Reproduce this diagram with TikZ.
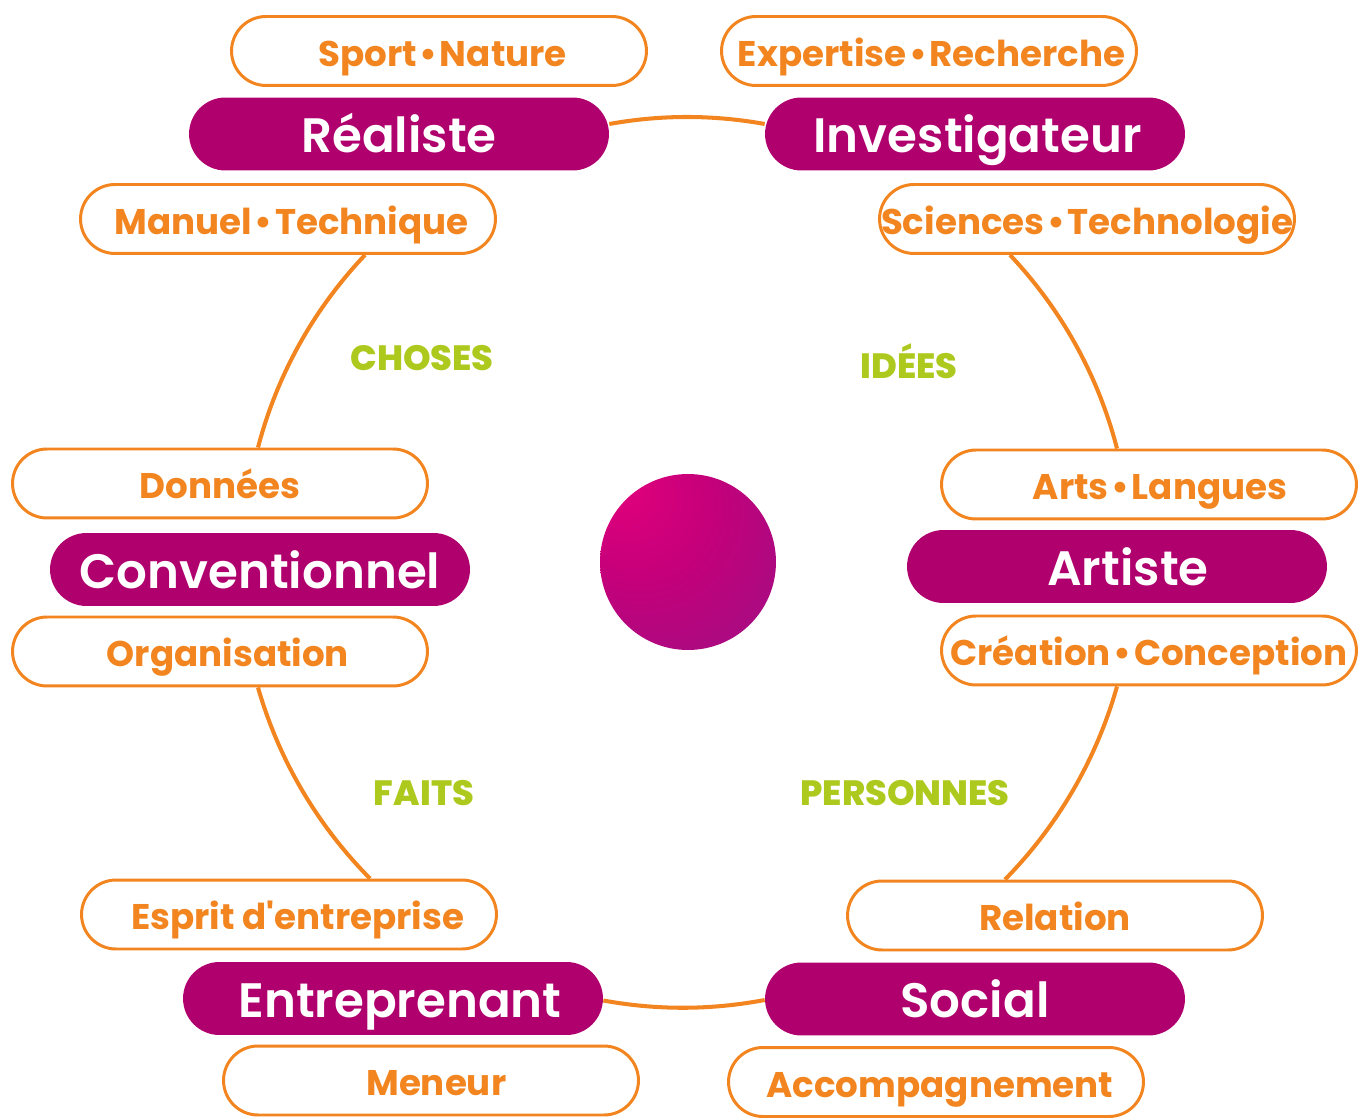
\documentclass[tikz,border=0pt]{standalone}
\usepackage{fontspec}
\setmainfont{Poppins}
\newfontfamily\psemi{Poppins SemiBold}
\newfontfamily\pbold{Poppins Bold}
\newfontfamily\pxbold{Poppins ExtraBold}
\usetikzlibrary{calc,backgrounds}
\definecolor{orng}{RGB}{242,133,31}
\definecolor{mag}{RGB}{176,0,110}
\definecolor{grn}{RGB}{174,201,30}
\definecolor{ballA}{RGB}{226,0,124}
\definecolor{ballB}{RGB}{196,0,122}
\definecolor{ballC}{RGB}{148,20,136}
\pgfdeclareradialshading{ballsh}{\pgfpoint{-20bp}{22bp}}{color(0bp)=(ballA); color(22bp)=(ballB); color(58bp)=(ballC); color(85bp)=(ballC)}
\newcommand{\dotsep}{\kern1.5pt•\kern1.5pt}
\newcommand{\tsh}[1]{\hspace*{#1}}
\tikzset{
  pillo/.style={draw=orng, line width=1.7pt, fill=white, rounded corners=0.69cm,
    minimum width=8.3cm, minimum height=1.38cm, inner sep=0pt, text=orng,
    text height=17.4pt, text depth=0pt, font=\pbold\fontsize{20.3}{20.3}\selectfont},
  pillf/.style={fill=mag, rounded corners=0.73cm,
    minimum width=8.4cm, minimum height=1.46cm, inner sep=0pt, text=white,
    text height=21.4pt, text depth=0pt, font=\psemi\fontsize{27.5}{27.5}\selectfont},
  arcline/.style={draw=orng, line width=2.3pt},
  lbl/.style={text=grn, inner sep=0pt, font=\pxbold\fontsize{20}{20}\selectfont},
}
\begin{document}
\begin{tikzpicture}[x=0.02cm,y=0.02cm]
\useasboundingbox (0,0) rectangle (1370,1117);
% top-left
\node[pillo] (sport) at (439,1066) {\tsh{4pt}Sport\dotsep Nature};
\node[pillf] (real) at (399,983) {Réaliste};
\node[pillo] (manuel) at (288,898) {\tsh{4pt}Manuel\dotsep Technique};
% top-right
\node[pillo] (expert) at (929,1066) {\tsh{3pt}Expertise\dotsep Recherche};
\node[pillf] (invest) at (975,983) {\tsh{3pt}Investigateur};
\node[pillo] (sci) at (1087,898) {Sciences\dotsep Technologie};
% right
\node[pillo] (arts) at (1149,632.5) {\tsh{12.5pt}Arts\dotsep Langues};
\node[pillf] (artiste) at (1117,550.5) {\tsh{12.5pt}Artiste};
\node[pillo] (creation) at (1149,466.5) {Création\dotsep Conception};
% left
\node[pillo] (donnees) at (220,633.5) {Données};
\node[pillf] (conv) at (260,547.5) {Conventionnel};
\node[pillo] (org) at (220,465.5) {\tsh{9pt}Organisation};
% bottom-left
\node[pillo] (esprit) at (289,202.5) {\tsh{10pt}Esprit d'entreprise};
\node[pillf] (entre) at (393,118.5) {\tsh{8pt}Entreprenant};
\node[pillo] (meneur) at (431,36.5) {\tsh{6pt}Meneur};
% bottom-right
\node[pillo] (relation) at (1055,201.5) {Relation};
\node[pillf] (social) at (975,118) {Social};
\node[pillo] (accomp) at (936,35) {\tsh{4.5pt}Accompagnement};
% centre
\node[circle, minimum size=3.52cm, inner sep=0pt, shading=ballsh] (ball) at (688,555) {};
% labels
\node[lbl] (choses) at (422,759) {CHOSES};
\node[lbl] (idees) at (909,756) {IDÉES};
\node[lbl] (faits) at (424,324) {FAITS};
\node[lbl] (pers) at (905,324) {PERSONNES};
% arcs
\begin{pgfonlayer}{background}
\draw[arcline] ($(real.east)+(0,10)$) to[bend left=10.2, looseness=0.87] ($(invest.west)+(0,10)$);
\draw[arcline] ($(manuel.south)+(77,0)$) to[bend right=14.4, looseness=0.87] ($(donnees.north)+(38,0)$);
\draw[arcline] ($(sci.south)+(-77,0)$) to[bend left=14.4, looseness=0.87] ($(arts.north)+(-32,0)$);
\draw[arcline] ($(org.south)+(38,0)$) to[bend right=14.3, looseness=0.87] ($(esprit.north)+(81,0)$);
\draw[arcline] ($(creation.south)+(-32,0)$) to[bend left=14.3, looseness=0.87] ($(relation.north)+(-50,0)$);
\draw[arcline] ($(entre.east)+(0,-2)$) to[bend right=10.5, looseness=0.87] ($(social.west)+(0,-1)$);
\end{pgfonlayer}
\end{tikzpicture}
\end{document}
